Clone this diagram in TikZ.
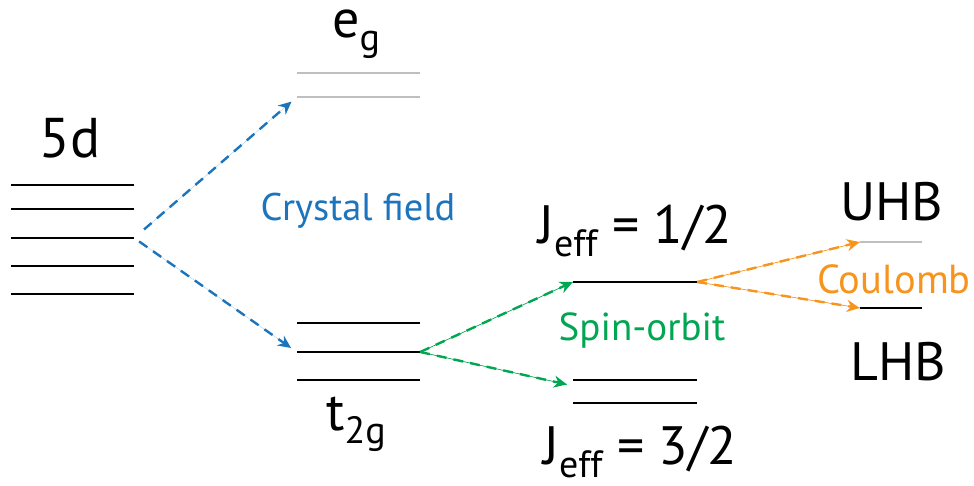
\documentclass[tikz,border=0pt]{standalone}
\usepackage{fontspec}
\setmainfont{PT Sans}
\usetikzlibrary{arrows.meta,calc}
\definecolor{cfblue}{RGB}{28,117,188}
\definecolor{sogreen}{RGB}{0,166,81}
\definecolor{cborange}{RGB}{247,148,29}
\newcommand{\lsub}[1]{\raisebox{-13pt}{\fontsize{38}{38}\selectfont #1}}
\tikzset{lv/.style={fill=black,inner sep=0pt,minimum height=2.8pt,minimum width=123pt},
 lvg/.style={lv,fill=black!25},
 big/.style={anchor=base,inner sep=0pt,font=\fontsize{54}{54}\selectfont},
 note/.style={anchor=base,inner sep=0pt,font=\fontsize{38.5}{38.5}\selectfont},
 flow/.style={-{Stealth[length=13pt,width=12pt]},line width=2.4pt,dash pattern=on 10pt off 7pt},
 cf/.style={flow,draw=cfblue,fill=cfblue},
 so/.style={flow,draw=sogreen,fill=sogreen,preaction={draw=sogreen,line width=.6pt,solid,-}},
 cb/.style={flow,draw=cborange,fill=cborange,preaction={draw=cborange,line width=.6pt,solid,-}}}
\begin{document}
\begin{tikzpicture}[x=1pt,y=-1pt]
\useasboundingbox (0,0) rectangle (974,485);
% 5d manifold
\foreach \y [count=\i] in {185,209,238,266,294} \node[lv](d\i) at (72.5,\y){};
\node[big,font=\fontsize{56}{56}\selectfont](l5d) at (70,157){5d};
% crystal field levels
\node[lvg](eg1) at (358.5,73){};\node[lvg](eg2) at (358.5,97){};
\node[lv](t1) at (358.5,323){};\node[lv](t2) at (358.5,352){};\node[lv](t3) at (358.5,380){};
\node[big](leg) at (356,37){e\lsub{g}};
\node[big](lt) at (356,430){t\lsub{2g}};
\node[note,text=cfblue](lcf) at (358,220){Crystal field};
% spin-orbit levels
\node[lv,minimum width=124pt](j1) at (635,282){};
\node[lv,minimum width=124pt](j2) at (635,380){};\node[lv,minimum width=124pt](j3) at (635,403){};
\coordinate (jin) at ($(j2.west)!.25!(j3.west)$);
\node[big](lj1) at (635,243){J\lsub{eff} = 1/2};
\node[big](lj3) at (640,464){J\lsub{eff} = 3/2};
\node[note,font=\fontsize{39}{39}\selectfont,text=sogreen](lso) at (642,340){Spin-orbit};
% Hubbard bands
\node[lvg,minimum width=62pt](uhb) at (891,242){};\node[lv,minimum width=62pt](lhb) at (891,308){};
\node[big](luhb) at (892,220){UHB};\node[big](llhb) at (898,380){LHB};
\node[note,font=\fontsize{40.5}{40.5}\selectfont,text=cborange](lcb) at (894,293){Coulomb};
% splittings
\draw[cf,shorten <=13pt,shorten >=7pt](d3.east)--(eg2.west);
\draw[cf,shorten <=6pt,shorten >=7pt](d3.east)--(t2.west);
\draw[so](t2.east)--(j1.west);\draw[so,shorten >=6pt](t2.east)--(jin);
\draw[cb](j1.east)--(uhb.west);\draw[cb](j1.east)--(lhb.west);
\end{tikzpicture}
\end{document}
